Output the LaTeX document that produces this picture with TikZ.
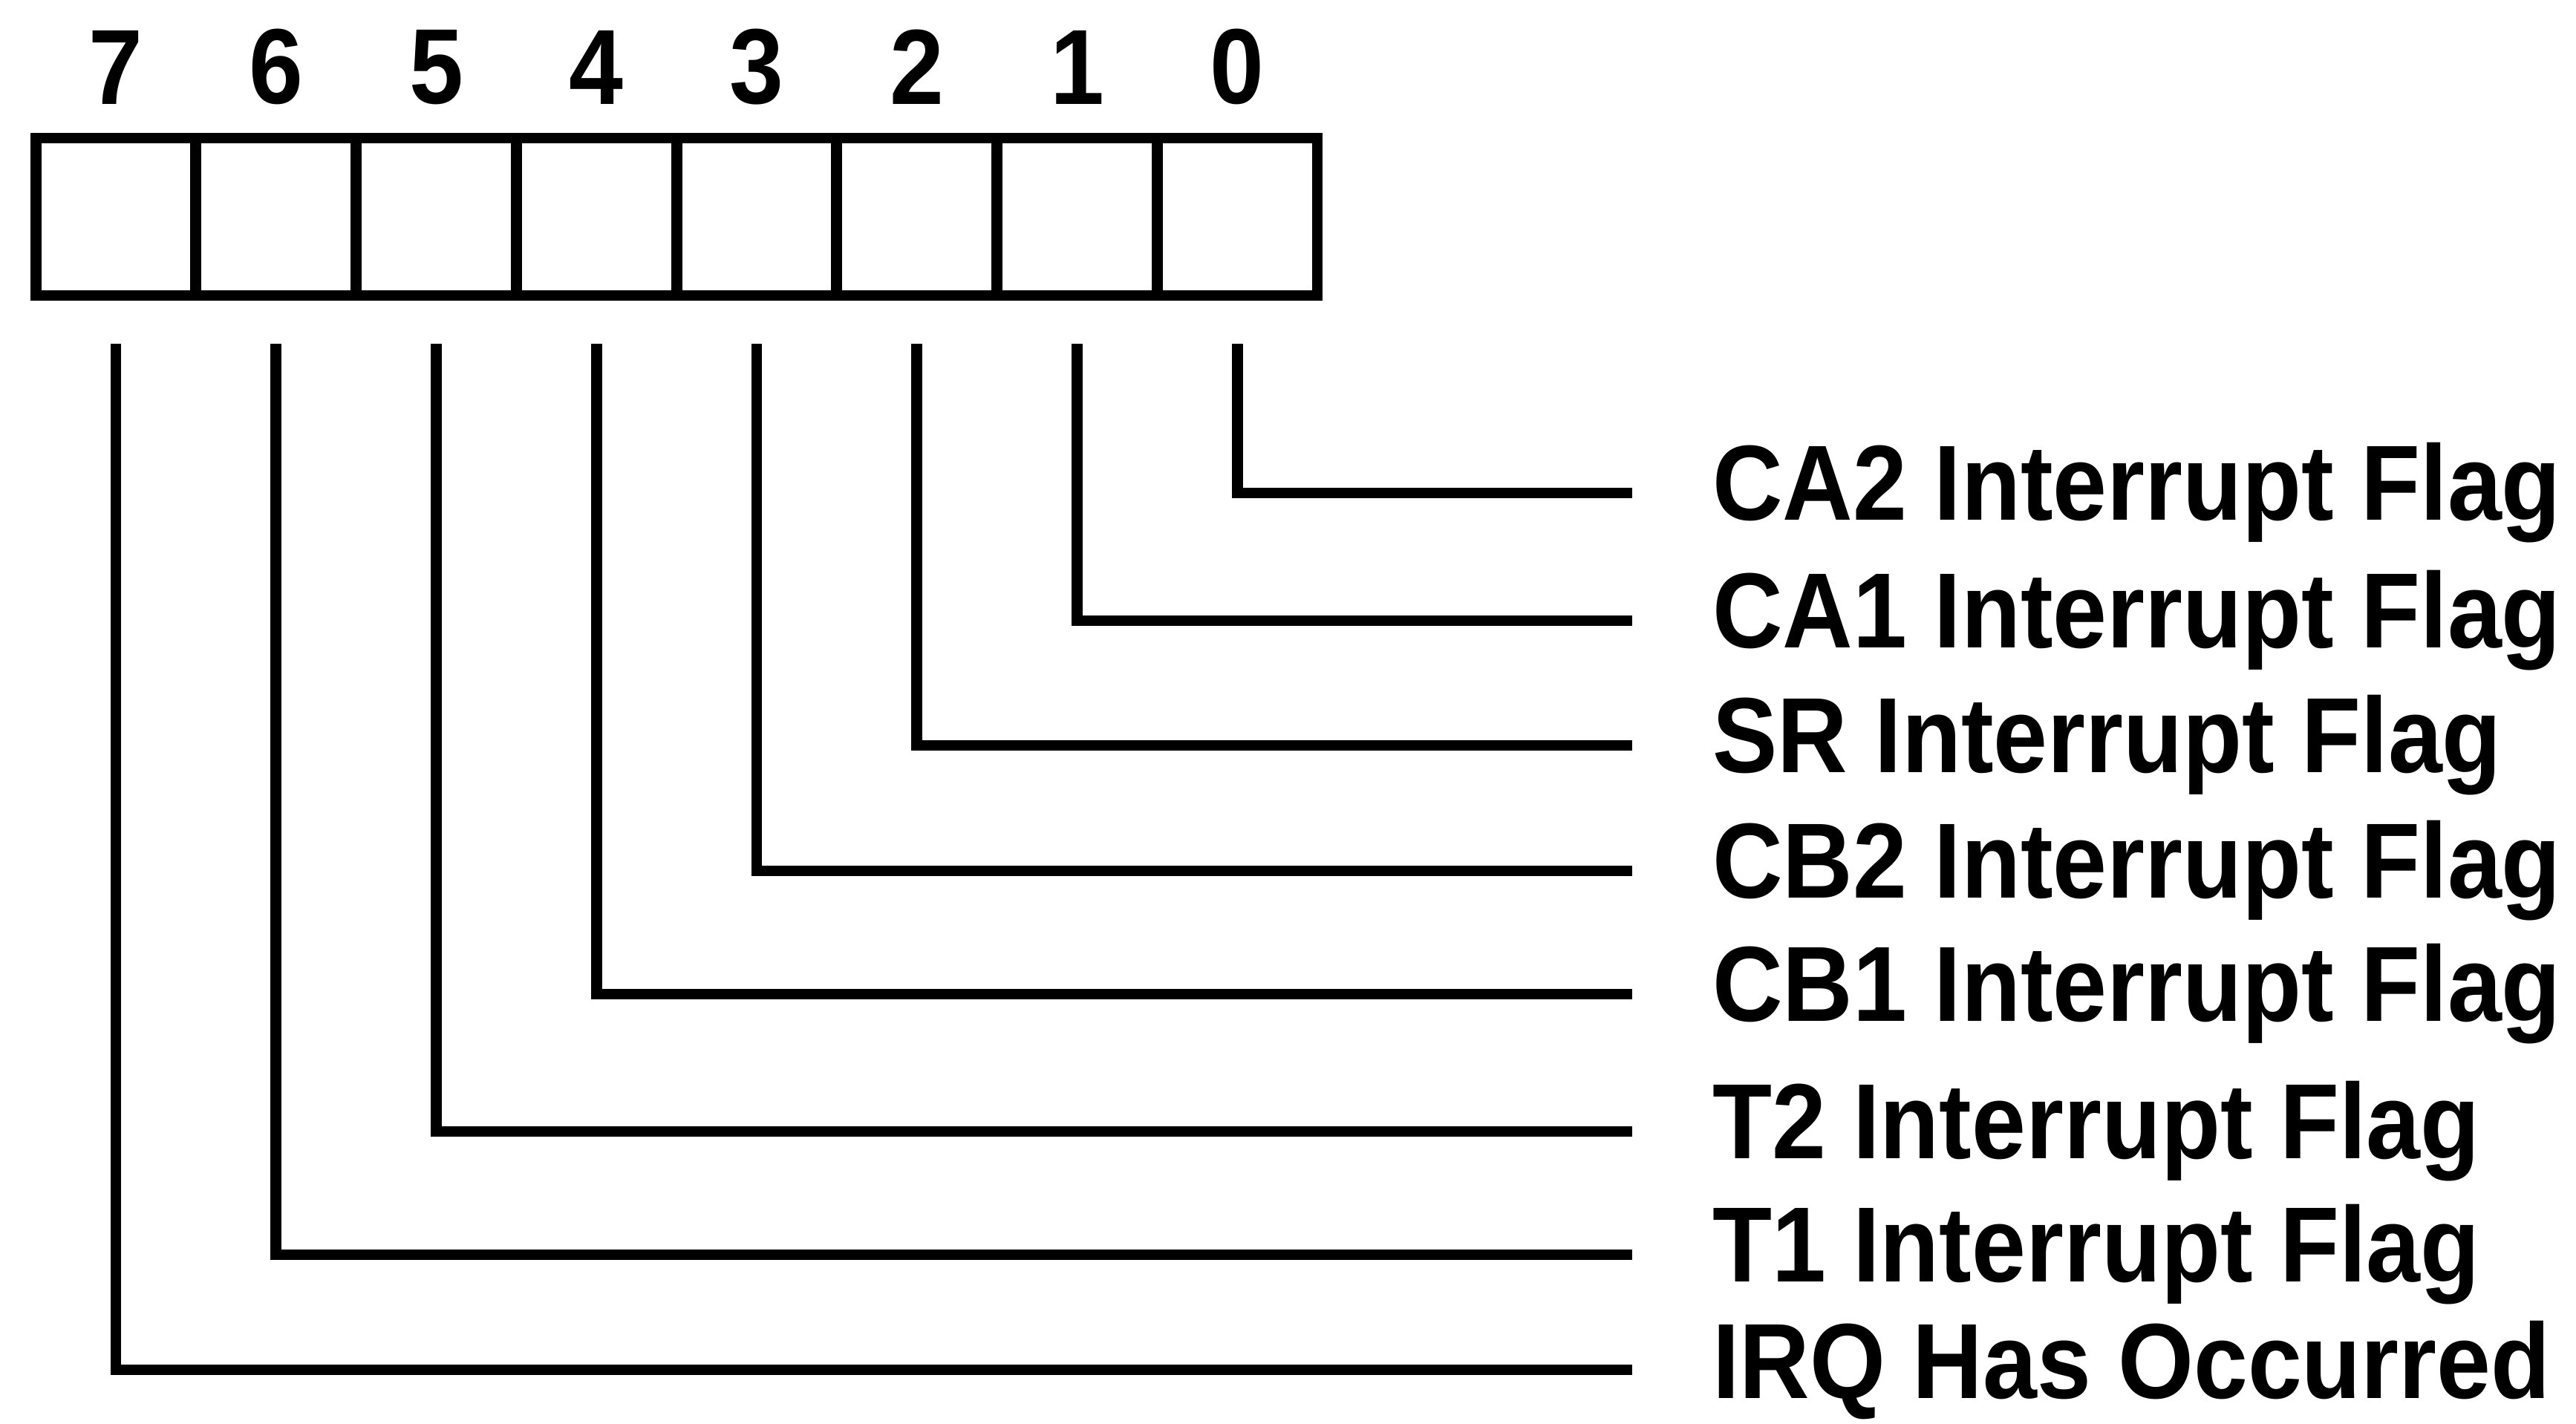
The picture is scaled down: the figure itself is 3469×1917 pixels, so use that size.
\documentclass[tikz,border=0pt]{standalone}
\usepackage{fontspec}
\newfontfamily\regfont{Liberation Sans}[FakeStretch=0.91]
\usetikzlibrary{positioning}
\tikzset{
  regline/.style={line width=2.1pt, draw=black},
  regcell/.style={draw, line width=2.1pt, minimum width=1.0788cm, minimum height=1.06cm, inner sep=0pt, outer sep=0pt},
  regtext/.style={font=\regfont\bfseries\fontsize{20.5}{24}\selectfont},
}

\begin{document}
\begin{tikzpicture}[
  x=0.005cm, y=-0.005cm,
  bitnum/.style={regtext, inner sep=0pt},
  flagtext/.style={regtext, anchor=west, inner xsep=0.535cm, inner ysep=0pt},
]
  \useasboundingbox (0,0) rectangle (3469,1917);
  % register cells, bit 7 on the left
  \foreach \b in {7,...,0}
    \node[regcell] (c\b) at ({156+215.75*(7-\b)},292) {};
  \foreach \b in {7,...,0}
    \node[bitnum, above=0.22cm of c\b] (n\b) {\b};
  % flag names and their leader lines
  \foreach \b/\y/\txt in {0/664/CA2 Interrupt Flag, 1/836/CA1 Interrupt Flag,
      2/1004/SR Interrupt Flag, 3/1173/CB2 Interrupt Flag, 4/1339/CB1 Interrupt Flag,
      5/1524/T2 Interrupt Flag, 6/1690/T1 Interrupt Flag, 7/1845/IRQ Has Occurred} {
    \node[flagtext] (f\b) at (2198,\y) {\txt};
    \draw[regline] ([yshift=-0.325cm]c\b.south) |- (f\b.west);
  }
\end{tikzpicture}
\end{document}
